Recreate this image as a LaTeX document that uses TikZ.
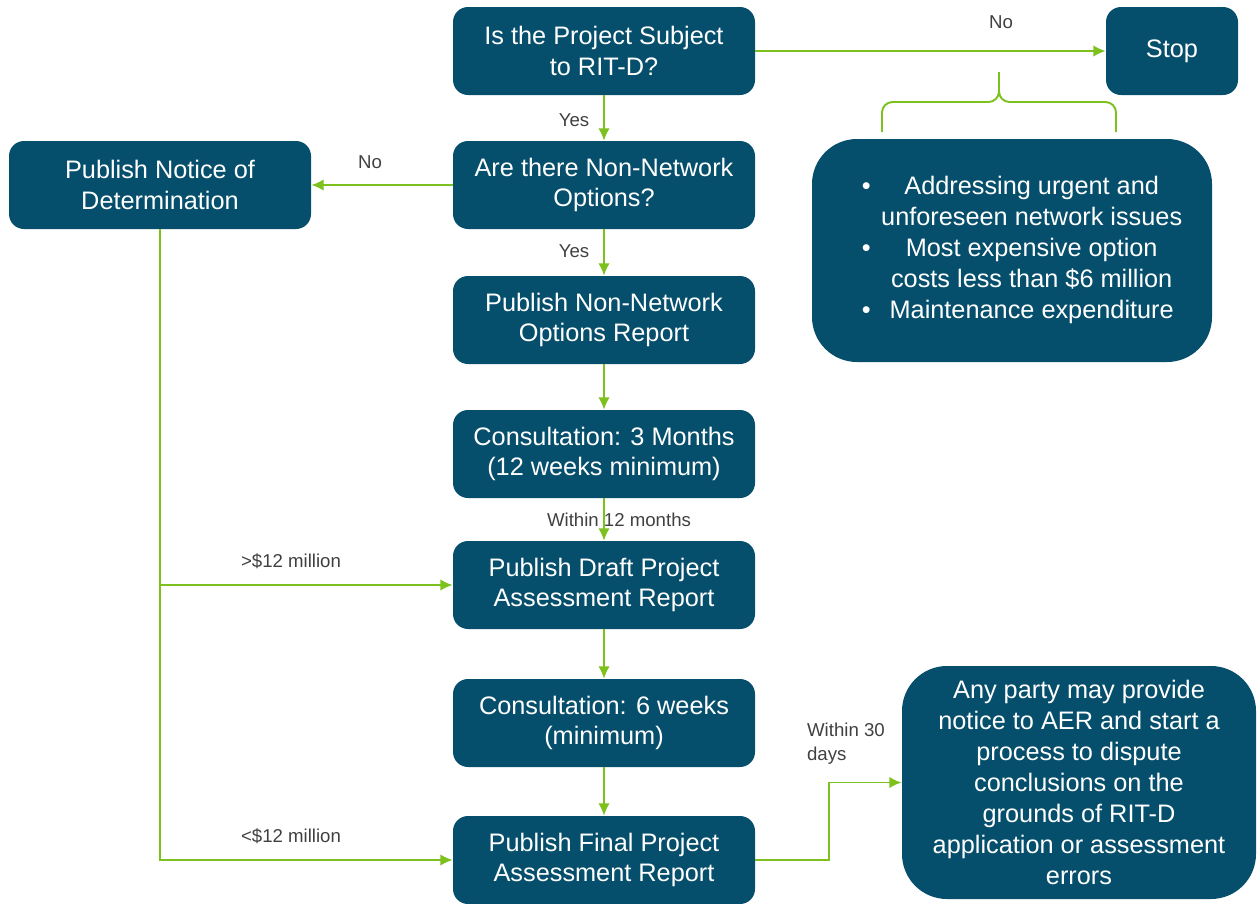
\documentclass[tikz,border=0pt]{standalone}
\usepackage{fontspec}
\setmainfont{Liberation Sans}
\usetikzlibrary{arrows.meta}
\usepackage{xcolor}
\definecolor{myteal}{RGB}{6,79,108}
\definecolor{mygreen}{RGB}{124,193,30}
\definecolor{mygray}{RGB}{64,64,64}
\tikzset{
  >=latex,
  proc/.style={rounded corners=0.3cm,fill=myteal,text=white,minimum width=6.04cm,minimum height=1.76cm,inner sep=0,align=center,font=\fontsize{14.4}{17.5}\selectfont},
  note box/.style={proc,rounded corners=0.9cm,font=\fontsize{14.4}{17.6}\selectfont},
  label text/.style={text=mygray,inner sep=1pt,font=\fontsize{10.6}{13.7}\selectfont},
  connect/.style={line width=1.1pt,mygreen},
  connect arrow/.style={-{Latex[length=7pt,width=6.5pt]},line width=1.1pt,mygreen}
}
\begin{document}
\begin{tikzpicture}
  \useasboundingbox (0,0) rectangle (25.14,-18.06);
  \node[proc] (subject) at (12.08,-1.02) {Is the Project Subject\\to RIT-D?};
  \node[proc,minimum width=2.64cm] (stop) at (23.44,-1.02) {Stop};
  \node[proc] (options) at (12.08,-3.70) {Are there Non-Network\\Options?};
  \node[proc] (notice) at (3.20,-3.70) {Publish Notice of\\Determination};
  \node[proc] (report) at (12.08,-6.40) {Publish Non-Network\\Options Report};
  \node[proc] (consult3) at (12.08,-9.08) {Consultation: 3 Months\\(12 weeks minimum)};
  \node[proc] (draft) at (12.08,-11.70) {Publish Draft Project\\Assessment Report};
  \node[proc] (consult6) at (12.08,-14.46) {Consultation: 6 weeks\\(minimum)};
  \node[proc] (final) at (12.08,-17.20) {Publish Final Project\\Assessment Report};
  \node[note box,minimum width=8cm,minimum height=4.46cm] (exempt) at (20.24,-5.01)
    {\begin{tabular}{@{\hspace{0.4cm}}c@{\hspace{6pt}}c@{}}
      \textbullet & Addressing urgent and\\
                  & unforeseen network issues\\
      \textbullet & Most expensive option\\
                  & costs less than \$6 million\\
      \textbullet & Maintenance expenditure
    \end{tabular}};
  \node[note box,minimum width=7.08cm,minimum height=4.66cm] (dispute) at (21.58,-15.65)
    {Any party may provide\\notice to AER and start a\\process to dispute\\conclusions on the\\grounds of RIT-D\\application or assessment\\errors};

  \draw[connect arrow] (subject) -- (stop);
  \node[label text] at (20.02,-0.44) {No};
  \draw[connect arrow] (subject) -- (options);
  \node[label text] at (11.48,-2.40) {Yes};
  \draw[connect arrow] (options) -- (notice);
  \node[label text] at (7.40,-3.24) {No};
  \draw[connect arrow] (options) -- (report);
  \node[label text] at (11.48,-5.02) {Yes};
  \draw[connect arrow] (report) -- (consult3);
  \draw[connect arrow] (consult3) -- (draft);
  \node[label text] at (12.38,-10.40) {Within 12 months};
  \draw[connect arrow] (draft) -- (consult6);
  \draw[connect arrow] (consult6) -- (final);
  \draw[connect arrow] (notice.south) |- (final.west);
  \draw[connect arrow] (notice.south |- draft.west) -- (draft.west);
  \node[label text] at (5.82,-11.22) {>\$12 million};
  \node[label text] at (5.82,-16.72) {<\$12 million};
  \draw[connect arrow] (final.east) -- ++(1.48,0) |- (dispute.west);
  \node[label text,anchor=west,align=left] at (16.10,-14.88) {Within 30\\days};

  % brace over the exemptions
  \draw[connect,rounded corners=6pt] (17.64,-2.64) -- (17.64,-2.04) -- (19.98,-2.04) -- (19.98,-1.44);
  \draw[connect,rounded corners=6pt] (22.32,-2.64) -- (22.32,-2.04) -- (19.98,-2.04) -- (19.98,-1.44);
\end{tikzpicture}
\end{document}
